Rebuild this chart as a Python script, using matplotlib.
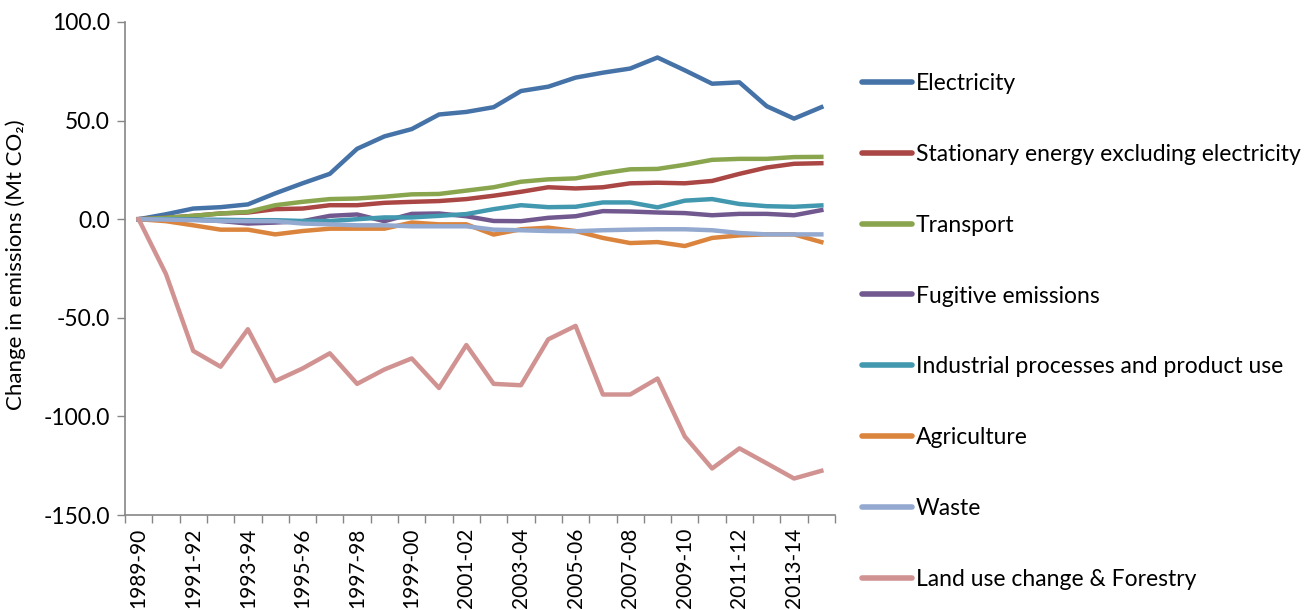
import numpy as np
import matplotlib
matplotlib.use("Agg")
import matplotlib.pyplot as plt
from matplotlib.ticker import FormatStrFormatter, MultipleLocator, FixedLocator

years = ['1989-90', '1990-91', '1991-92', '1992-93', '1993-94', '1994-95', '1995-96',
         '1996-97', '1997-98', '1998-99', '1999-00', '2000-01', '2001-02', '2002-03',
         '2003-04', '2004-05', '2005-06', '2006-07', '2007-08', '2008-09', '2009-10',
         '2010-11', '2011-12', '2012-13', '2013-14', '2014-15']

electricity = [0, 2.5, 5.4, 6.1, 7.5, 13.1, 18.2, 23.0, 35.7, 42.0, 45.7, 53.1, 54.4,
               56.8, 65.0, 67.2, 71.8, 74.3, 76.4, 82.0, 75.5, 68.7, 69.4, 57.3, 51.0, 56.8]
stationary = [0, 0.7, 1.7, 2.9, 3.4, 5.1, 5.4, 7.1, 7.1, 8.3, 8.8, 9.2, 10.2, 11.9,
              13.9, 16.2, 15.6, 16.2, 18.2, 18.5, 18.2, 19.4, 23.0, 26.2, 28.1, 28.4]
transport = [0, 0.7, 1.7, 2.9, 3.7, 7.1, 8.8, 10.2, 10.5, 11.4, 12.6, 12.8, 14.5, 16.2,
             19.0, 20.2, 20.7, 23.3, 25.3, 25.5, 27.6, 30.1, 30.6, 30.6, 31.5, 31.6]
fugitive = [0, 0, -0.2, -0.9, -2.2, -1.7, -1.0, 1.7, 2.4, -1.0, 2.7, 2.9, 1.5, -0.9,
            -1.0, 0.7, 1.5, 4.1, 3.9, 3.4, 3.1, 2.0, 2.7, 2.7, 2.0, 4.6]
industrial = [0, 0, -0.2, -0.3, -0.5, -0.5, -0.9, -0.9, 0, 0.9, 0.9, 1.7, 2.6, 5.1,
              7.1, 6.1, 6.3, 8.5, 8.5, 6.0, 9.4, 10.2, 7.7, 6.6, 6.3, 7.0]
agriculture = [0, -1.0, -3.1, -5.3, -5.3, -7.7, -6.0, -4.8, -4.8, -4.8, -1.7, -2.6, -2.6,
               -7.8, -5.1, -4.3, -6.0, -9.5, -12.1, -11.6, -13.6, -9.5, -8.2, -7.7, -7.7, -11.6]
waste = [0, -0.2, -0.5, -0.9, -1.0, -1.0, -2.2, -2.6, -3.1, -3.1, -3.6, -3.6, -3.6, -5.3,
         -5.6, -6.0, -6.1, -5.6, -5.3, -5.1, -5.1, -5.6, -7.0, -7.7, -7.7, -7.7]
land_use = [0, -27.8, -66.8, -74.8, -55.8, -82.1, -75.7, -68.0, -83.5, -76.2, -70.6, -85.6,
            -63.8, -83.5, -84.2, -60.9, -54.1, -88.9, -88.9, -80.8, -110.2, -126.4, -116.2,
            -123.8, -131.5, -127.6]

series = [
    ('Electricity', electricity, '#4572A7'),
    ('Stationary energy excluding electricity', stationary, '#AA4643'),
    ('Transport', transport, '#89A54E'),
    ('Fugitive emissions', fugitive, '#71588F'),
    ('Industrial processes and product use', industrial, '#4198AF'),
    ('Agriculture', agriculture, '#DB843D'),
    ('Waste', waste, '#93A9CF'),
    ('Land use change & Forestry', land_use, '#D19392'),
]

plt.rcParams['font.family'] = 'Lato'

fig = plt.figure(figsize=(13.12, 6.10), dpi=100)
ax = fig.add_axes([125 / 1312, 95 / 610, 710 / 1312, 493 / 610])

x = np.arange(len(years))
for name, vals, col in series:
    ax.plot(x, vals, color=col, lw=3.2, label=name, solid_joinstyle='round')

ax.set_xlim(-0.5, len(years) - 0.5)
ax.set_ylim(-150, 100)
ax.yaxis.set_major_locator(MultipleLocator(50))
ax.yaxis.set_major_formatter(FormatStrFormatter('%.1f'))

ax.set_xticks(x[::2])
ax.set_xticklabels(years[::2])
ax.xaxis.set_minor_locator(FixedLocator(np.arange(-0.5, len(years), 1)))
ax.tick_params(axis='x', which='major', length=0, pad=9, labelsize=15, labelrotation=90)
ax.tick_params(axis='x', which='minor', length=6, color='#868686', width=1)
ax.tick_params(axis='y', length=6, color='#868686', width=1, labelsize=16.5, pad=5)

for s in ['top', 'right']:
    ax.spines[s].set_visible(False)
for s in ['left', 'bottom']:
    ax.spines[s].set_color('#868686')
    ax.spines[s].set_linewidth(1.2)

fig.text(16 / 1312, (610 - 265) / 610, 'Change in emissions (Mt CO\u2082)', rotation=90,
         ha='center', va='center', fontsize=16)

leg = ax.legend(loc='center left', bbox_to_anchor=(862 / 1312, 278.5 / 610),
                bbox_transform=fig.transFigure, frameon=False, fontsize=16.5,
                borderpad=0, borderaxespad=0,
                handlelength=2.18, handletextpad=0.17, labelspacing=2.18)
for line in leg.get_lines():
    line.set_linewidth(4)
    line.set_solid_capstyle('round')

fig.savefig('out.png', dpi=100)
